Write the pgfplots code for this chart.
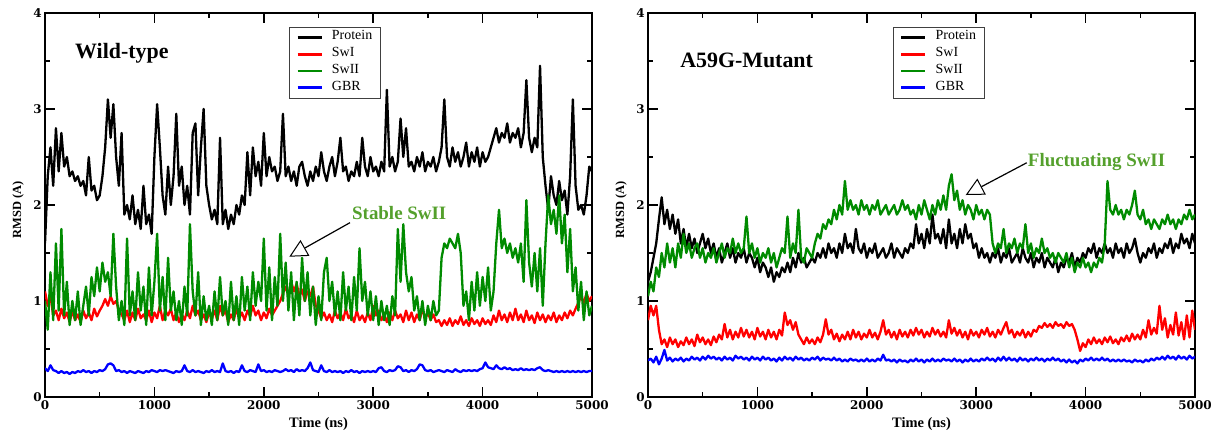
\documentclass[border=0pt]{standalone}
\usepackage{pgfplots}
\pgfplotsset{compat=1.18}
\usepackage{pgfplotstable}
\usepackage{fontspec}
\setmainfont{Liberation Serif}
\newfontfamily\tickfont{DejaVu Serif}
\newcommand{\tl}[1]{{\tickfont\bfseries\fontsize{12}{12}\selectfont #1}}
\usetikzlibrary{arrows.meta}
\definecolor{pgreen}{RGB}{0,139,0}
\definecolor{agreen}{RGB}{84,160,44}
\definecolor{pred}{RGB}{255,0,0}
\definecolor{pblue}{RGB}{0,0,255}

\pgfplotstableread{
t P S1 S2 G
0 1.6 1.1 1.0 0.3
25 2.3 0.95 0.7 0.27
50 2.6 1.05 1.3 0.33
75 2.2 0.85 0.8 0.28
100 2.8 0.9 1.6 0.27
125 2.35 0.8 0.9 0.25
150 2.75 0.92 1.75 0.27
175 2.4 0.82 0.85 0.25
200 2.5 0.88 1.2 0.26
225 2.3 0.78 0.75 0.24
250 2.35 0.9 1.0 0.26
275 2.25 0.8 0.8 0.25
300 2.3 0.86 1.1 0.27
325 2.2 0.78 0.75 0.26
350 2.25 0.9 0.95 0.28
375 2.1 0.82 1.15 0.26
400 2.5 0.88 0.85 0.27
425 2.15 0.8 1.25 0.25
450 2.2 0.92 1.05 0.27
475 2.05 0.84 1.35 0.26
500 2.1 0.9 1.1 0.28
525 2.3 0.95 1.4 0.27
550 2.6 1.02 1.2 0.29
575 3.1 0.95 1.3 0.34
600 2.7 1.05 1.05 0.35
625 3.05 0.97 1.7 0.33
650 2.5 1.0 1.15 0.27
675 2.2 0.9 0.8 0.28
700 2.75 0.86 1.0 0.26
725 1.9 0.8 0.75 0.27
750 2.0 0.9 1.65 0.25
775 1.85 0.78 0.85 0.27
800 2.1 0.88 1.1 0.26
825 1.8 0.8 0.8 0.25
850 1.95 0.92 1.3 0.27
875 1.75 0.82 0.9 0.26
900 2.2 0.86 1.15 0.25
925 1.8 0.8 0.75 0.27
950 1.9 0.9 1.35 0.26
975 1.7 0.78 0.85 0.28
1000 2.5 0.88 1.2 0.27
1025 3.05 0.82 1.7 0.26
1050 2.6 0.95 0.9 0.28
1075 2.1 0.8 1.25 0.27
1100 1.9 0.9 0.8 0.28
1125 2.4 0.85 1.45 0.27
1150 2.0 0.92 0.9 0.26
1175 2.3 0.8 1.1 0.25
1200 2.95 0.88 0.8 0.27
1225 2.2 0.78 1.0 0.26
1250 2.4 0.86 0.75 0.27
1275 2.0 0.8 1.15 0.33
1300 2.2 0.9 0.85 0.27
1325 1.9 0.82 1.8 0.26
1350 2.75 0.95 1.1 0.28
1375 2.85 0.85 0.85 0.26
1400 2.1 0.9 1.3 0.27
1425 2.6 0.8 0.75 0.26
1450 3.0 0.86 1.05 0.25
1475 2.2 0.78 0.8 0.27
1500 2.0 0.88 0.95 0.26
1525 1.85 0.82 0.75 0.28
1550 1.95 0.9 1.1 0.26
1575 1.8 0.8 0.8 0.27
1600 2.7 0.95 1.25 0.26
1625 1.8 0.85 0.85 0.35
1650 1.95 0.9 1.0 0.27
1675 1.75 0.78 0.75 0.26
1700 1.9 0.86 1.2 0.27
1725 1.8 0.8 0.8 0.25
1750 2.0 0.92 1.05 0.27
1775 1.9 0.82 0.75 0.26
1800 2.1 0.88 1.25 0.33
1825 2.0 0.8 0.9 0.27
1850 2.55 0.9 1.15 0.26
1875 2.1 0.84 0.8 0.28
1900 2.6 0.95 1.3 0.27
1925 2.3 0.85 0.95 0.26
1950 2.45 0.9 1.2 0.34
1975 2.2 0.8 1.0 0.27
2000 2.75 0.88 1.65 0.28
2025 2.3 0.82 0.9 0.26
2050 2.5 0.92 1.35 0.27
2075 2.35 0.85 0.8 0.26
2100 2.4 0.9 1.25 0.28
2125 2.25 0.95 0.95 0.27
2150 2.35 1.0 1.7 0.26
2175 2.95 1.08 1.0 0.27
2200 2.3 1.15 1.4 0.29
2225 2.4 1.05 0.9 0.27
2250 2.25 1.2 1.3 0.28
2275 2.35 1.1 0.8 0.26
2300 2.2 1.18 1.2 0.29
2325 2.4 1.05 0.85 0.27
2350 2.45 1.12 1.45 0.28
2375 2.3 1.0 1.0 0.27
2400 2.2 1.1 1.3 0.3
2425 2.35 1.05 0.85 0.36
2450 2.25 1.15 1.15 0.28
2475 2.4 0.95 0.75 0.27
2500 2.3 0.9 1.05 0.26
2525 2.55 0.82 0.8 0.33
2550 2.35 0.88 1.3 0.27
2575 2.25 0.8 1.45 0.26
2600 2.4 0.86 1.0 0.28
2625 2.5 0.78 1.2 0.26
2650 2.3 0.9 0.85 0.27
2675 2.45 0.82 1.1 0.26
2700 2.7 0.88 0.8 0.27
2725 2.35 0.8 1.3 0.25
2750 2.4 0.92 0.9 0.27
2775 2.25 0.82 1.15 0.26
2800 2.35 0.86 0.8 0.28
2825 2.3 0.78 1.25 0.26
2850 2.45 0.9 0.9 0.27
2875 2.3 0.8 1.55 0.25
2900 2.7 0.85 1.0 0.27
2925 2.4 0.78 1.2 0.26
2950 2.3 0.88 0.85 0.27
2975 2.5 0.8 1.1 0.26
3000 2.35 0.95 0.8 0.27
3025 2.4 0.85 1.05 0.26
3050 2.3 0.9 0.75 0.3
3075 2.45 0.8 1.0 0.31
3100 2.35 0.86 0.8 0.27
3125 3.2 0.78 0.95 0.26
3150 2.4 0.88 0.75 0.28
3175 2.5 0.8 1.05 0.27
3200 2.35 0.9 0.85 0.28
3225 2.45 0.82 1.75 0.32
3250 2.9 0.86 1.2 0.31
3275 2.5 0.78 1.8 0.27
3300 2.8 0.9 1.3 0.28
3325 2.4 0.8 1.1 0.26
3350 2.45 0.88 1.25 0.28
3375 2.35 0.78 0.9 0.27
3400 2.5 0.86 1.05 0.29
3425 2.4 0.8 0.8 0.34
3450 2.55 0.92 1.0 0.33
3475 2.35 0.82 0.75 0.28
3500 2.45 0.88 0.95 0.27
3525 2.4 0.8 0.8 0.28
3550 2.5 0.86 1.0 0.26
3575 2.35 0.78 0.85 0.27
3600 2.45 0.8 0.9 0.28
3625 2.6 0.74 1.45 0.27
3650 3.1 0.8 1.6 0.26
3675 2.5 0.75 1.55 0.28
3700 2.4 0.82 1.65 0.27
3725 2.6 0.74 1.6 0.26
3750 2.45 0.8 1.55 0.29
3775 2.55 0.76 1.7 0.27
3800 2.4 0.84 1.5 0.26
3825 2.5 0.75 0.95 0.28
3850 2.65 0.8 1.1 0.27
3875 2.4 0.74 0.8 0.28
3900 2.55 0.82 1.2 0.27
3925 2.45 0.76 0.9 0.28
3950 2.6 0.8 1.3 0.27
3975 2.4 0.74 0.95 0.29
4000 2.55 0.82 1.25 0.3
4025 2.45 0.76 1.0 0.36
4050 2.5 0.8 1.35 0.31
4075 2.6 0.75 0.9 0.3
4100 2.7 0.85 1.1 0.29
4125 2.8 0.78 1.6 0.33
4150 2.65 0.9 1.95 0.3
4175 2.75 0.8 1.55 0.29
4200 2.7 0.86 1.65 0.31
4225 2.85 0.78 1.5 0.29
4250 2.65 0.88 1.6 0.3
4275 2.75 0.8 1.45 0.28
4300 2.7 0.92 1.55 0.29
4325 2.8 0.8 1.4 0.28
4350 2.6 0.86 1.6 0.3
4375 2.75 0.78 1.2 0.28
4400 3.3 0.9 2.05 0.29
4425 2.7 0.8 1.4 0.28
4450 2.55 0.85 1.15 0.29
4475 2.7 0.77 1.5 0.28
4500 2.6 0.88 1.1 0.3
4525 3.45 0.8 1.55 0.31
4550 2.5 0.86 0.95 0.28
4575 2.2 0.78 1.6 0.27
4600 1.95 0.85 2.1 0.28
4625 2.3 0.8 1.8 0.27
4650 2.1 0.88 1.95 0.26
4675 2.0 0.78 1.7 0.27
4700 2.25 0.85 2.1 0.26
4725 2.05 0.8 1.6 0.27
4750 2.15 0.88 1.9 0.26
4775 1.9 0.82 1.3 0.27
4800 2.3 0.9 1.75 0.26
4825 3.1 0.85 1.1 0.27
4850 2.2 0.92 1.35 0.26
4875 1.95 0.98 0.9 0.27
4900 2.0 1.05 1.2 0.26
4925 1.9 0.98 0.8 0.27
4950 2.1 1.08 1.1 0.26
4975 2.4 1.0 0.85 0.27
5000 2.35 1.05 0.95 0.27
}\wt

\pgfplotstableread{
t P S1 S2 G
0 1.2 0.8 1.05 0.38
25 1.3 0.95 1.2 0.4
50 1.45 0.85 1.1 0.36
75 1.6 0.95 1.35 0.42
100 1.85 0.7 1.25 0.34
125 2.08 0.55 1.5 0.4
150 1.8 0.6 1.35 0.49
175 1.95 0.52 1.6 0.38
200 1.75 0.62 1.4 0.41
225 1.9 0.55 1.55 0.37
250 1.7 0.6 1.35 0.4
275 1.85 0.52 1.6 0.38
300 1.6 0.58 1.45 0.41
325 1.75 0.54 1.7 0.37
350 1.55 0.62 1.5 0.4
375 1.7 0.55 1.6 0.38
400 1.55 0.6 1.45 0.42
425 1.65 0.53 1.55 0.39
450 1.5 0.65 1.6 0.41
475 1.6 0.57 1.45 0.38
500 1.7 0.62 1.55 0.42
525 1.55 0.55 1.4 0.39
550 1.65 0.6 1.5 0.43
575 1.5 0.54 1.45 0.4
600 1.6 0.63 1.55 0.42
625 1.45 0.57 1.4 0.39
650 1.55 0.65 1.5 0.41
675 1.4 0.6 1.6 0.38
700 1.5 0.76 1.45 0.42
725 1.6 0.62 1.55 0.39
750 1.45 0.7 1.5 0.41
775 1.55 0.6 1.65 0.38
800 1.4 0.68 1.5 0.43
825 1.5 0.62 1.6 0.4
850 1.45 0.72 1.5 0.42
875 1.55 0.63 1.55 0.39
900 1.4 0.7 1.88 0.41
925 1.5 0.62 1.5 0.38
950 1.45 0.68 1.6 0.42
975 1.35 0.6 1.45 0.39
1000 1.45 0.72 1.55 0.41
1025 1.3 0.63 1.4 0.38
1050 1.4 0.68 1.5 0.42
1075 1.35 0.6 1.45 0.39
1100 1.25 0.7 1.55 0.41
1125 1.35 0.62 1.4 0.38
1150 1.2 0.68 1.5 0.4
1175 1.3 0.6 1.35 0.37
1200 1.25 0.7 1.45 0.41
1225 1.35 0.64 1.55 0.38
1250 1.3 0.88 1.5 0.42
1275 1.4 0.75 1.88 0.39
1300 1.3 0.8 1.45 0.41
1325 1.45 0.7 1.6 0.38
1350 1.35 0.78 1.5 0.42
1375 1.5 0.65 1.95 0.39
1400 1.4 0.6 1.45 0.41
1425 1.45 0.55 1.4 0.38
1450 1.35 0.62 1.55 0.4
1475 1.4 0.56 1.5 0.38
1500 1.45 0.6 1.45 0.41
1525 1.4 0.55 1.6 0.39
1550 1.5 0.62 1.7 0.42
1575 1.45 0.57 1.65 0.38
1600 1.55 0.65 1.8 0.41
1625 1.45 0.81 1.75 0.39
1650 1.6 0.65 1.85 0.4
1675 1.5 0.7 1.8 0.38
1700 1.55 0.6 1.95 0.41
1725 1.45 0.66 1.85 0.38
1750 1.6 0.58 2.0 0.4
1775 1.5 0.65 1.9 0.37
1800 1.7 0.6 2.25 0.39
1825 1.55 0.68 1.95 0.37
1850 1.6 0.6 2.05 0.4
1875 1.5 0.7 1.95 0.38
1900 1.75 0.62 2.0 0.39
1925 1.55 0.68 1.9 0.37
1950 1.5 0.6 2.05 0.39
1975 1.6 0.66 1.95 0.37
2000 1.45 0.62 2.0 0.4
2025 1.55 0.7 1.9 0.37
2050 1.5 0.62 2.0 0.39
2075 1.6 0.67 1.95 0.37
2100 1.45 0.6 2.05 0.4
2125 1.5 0.68 1.9 0.38
2150 1.55 0.8 1.95 0.44
2175 1.45 0.65 2.0 0.38
2200 1.5 0.7 1.9 0.39
2225 1.6 0.62 1.95 0.37
2250 1.45 0.68 2.0 0.39
2275 1.55 0.6 1.9 0.36
2300 1.5 0.7 1.95 0.39
2325 1.45 0.63 2.05 0.37
2350 1.55 0.68 1.95 0.38
2375 1.5 0.62 2.0 0.36
2400 1.6 0.7 1.9 0.39
2425 1.55 0.64 1.95 0.37
2450 1.8 0.72 1.85 0.4
2475 1.6 0.65 2.0 0.37
2500 1.7 0.7 1.9 0.39
2525 1.55 0.62 2.05 0.36
2550 1.75 0.68 1.95 0.39
2575 1.6 0.63 1.85 0.37
2600 1.9 0.72 2.0 0.4
2625 1.65 0.65 1.9 0.37
2650 1.7 0.7 2.05 0.39
2675 1.6 0.63 1.95 0.37
2700 1.75 0.68 2.1 0.4
2725 1.55 0.62 1.95 0.38
2750 1.85 0.8 2.2 0.39
2775 1.6 0.66 2.32 0.37
2800 1.7 0.72 2.05 0.4
2825 1.55 0.64 2.15 0.37
2850 1.75 0.7 1.95 0.39
2875 1.6 0.62 2.05 0.36
2900 1.8 0.68 1.9 0.39
2925 1.65 0.6 2.0 0.37
2950 1.7 0.7 1.95 0.4
2975 1.55 0.64 1.85 0.37
3000 1.6 0.68 2.0 0.39
3025 1.45 0.62 1.9 0.37
3050 1.55 0.7 1.95 0.4
3075 1.45 0.65 1.85 0.38
3100 1.5 0.72 1.95 0.41
3125 1.4 0.63 1.9 0.38
3150 1.5 0.68 1.6 0.4
3175 1.45 0.62 1.5 0.37
3200 1.55 0.7 1.6 0.41
3225 1.4 0.65 1.55 0.38
3250 1.5 0.72 1.75 0.42
3275 1.45 0.78 1.5 0.38
3300 1.55 0.66 1.6 0.41
3325 1.4 0.7 1.55 0.38
3350 1.45 0.62 1.65 0.4
3375 1.5 0.68 1.5 0.37
3400 1.4 0.64 1.6 0.41
3425 1.55 0.7 1.55 0.38
3450 1.45 0.62 1.8 0.4
3475 1.4 0.68 1.5 0.37
3500 1.5 0.63 1.6 0.4
3525 1.35 0.7 1.45 0.38
3550 1.45 0.68 1.55 0.41
3575 1.4 0.74 1.5 0.38
3600 1.5 0.72 1.65 0.4
3625 1.35 0.77 1.5 0.37
3650 1.45 0.73 1.55 0.4
3675 1.4 0.76 1.45 0.38
3700 1.35 0.72 1.5 0.41
3725 1.45 0.78 1.4 0.38
3750 1.3 0.74 1.5 0.4
3775 1.4 0.76 1.45 0.37
3800 1.35 0.72 1.4 0.39
3825 1.45 0.78 1.5 0.36
3850 1.4 0.74 1.35 0.39
3875 1.5 0.76 1.45 0.36
3900 1.35 0.7 1.3 0.38
3925 1.45 0.6 1.4 0.35
3950 1.4 0.48 1.35 0.39
3975 1.5 0.56 1.45 0.37
4000 1.45 0.52 1.35 0.4
4025 1.55 0.6 1.4 0.38
4050 1.5 0.55 1.3 0.41
4075 1.6 0.62 1.4 0.38
4100 1.45 0.56 1.35 0.4
4125 1.55 0.6 1.45 0.38
4150 1.5 0.55 1.4 0.41
4175 1.6 0.62 1.6 0.38
4200 1.5 0.57 2.25 0.4
4225 1.55 0.63 1.95 0.37
4250 1.45 0.56 1.9 0.39
4275 1.6 0.6 2.0 0.37
4300 1.5 0.55 1.9 0.39
4325 1.55 0.62 1.95 0.37
4350 1.45 0.58 1.85 0.39
4375 1.6 0.64 1.95 0.37
4400 1.5 0.58 1.9 0.38
4425 1.55 0.66 2.0 0.36
4450 1.65 0.6 2.15 0.39
4475 1.5 0.65 1.9 0.37
4500 1.4 0.6 1.85 0.38
4525 1.5 0.7 1.95 0.36
4550 1.45 0.62 1.8 0.39
4575 1.55 0.8 1.85 0.37
4600 1.5 0.65 1.75 0.4
4625 1.6 0.72 1.85 0.38
4650 1.45 0.66 1.8 0.41
4675 1.55 0.95 1.75 0.39
4700 1.5 0.7 1.85 0.42
4725 1.6 0.82 1.8 0.39
4750 1.55 0.62 1.9 0.43
4775 1.65 0.75 1.8 0.4
4800 1.5 0.65 1.85 0.42
4825 1.6 0.88 1.75 0.39
4850 1.55 0.64 1.85 0.43
4875 1.7 0.78 1.8 0.4
4900 1.6 0.6 1.9 0.42
4925 1.65 0.85 1.85 0.39
4950 1.55 0.62 1.95 0.43
4975 1.7 0.9 1.85 0.4
5000 1.6 0.7 1.9 0.42
}\mut

\pgfplotsset{
  rmsd/.style={
    scale only axis, width=547bp, height=384bp,
    xmin=0, xmax=5000, ymin=0, ymax=4,
    xtick={0,1000,2000,3000,4000,5000}, ytick={0,1,2,3,4},
    xticklabels={\tl{0},\tl{1000},\tl{2000},\tl{3000},\tl{4000},\tl{5000}},
    yticklabels={\tl{0},\tl{1},\tl{2},\tl{3},\tl{4}},
    minor xtick={500,1500,2500,3500,4500},
    minor ytick={0.5,1.5,2.5,3.5},
    tick align=inside,
    major tick length=10bp, minor tick length=5bp,
    axis line style={line width=1.6bp},
    every tick/.style={line width=1.5bp, black},
    xticklabel style={inner sep=3bp},
    yticklabel style={inner sep=3bp},
    xlabel={Time (ns)}, ylabel={RMSD (A)},
    xlabel style={font=\fontsize{14.5}{14.5}\selectfont\bfseries, at={(axis description cs:0.5,-0.07)}, anchor=center},
    ylabel style={font=\fontsize{12.5}{12.5}\selectfont\bfseries, at={(axis description cs:-0.049,0.487)}, anchor=center},
    legend cell align=left,
    legend style={draw=black!75, line width=0.8bp, fill=white,
      font=\fontsize{14}{14}\selectfont,
      inner xsep=7bp, inner ysep=2bp, column sep=8bp,
      nodes={inner xsep=1bp, inner ysep=0bp, text height=10.7bp, text depth=6bp}},
    legend image code/.code={\draw[#1, line width=2.6bp] (0bp,0bp) -- (24bp,0bp);},
    every axis plot/.append style={line width=2.3bp, line join=round},
  }
}

\begin{document}
\begin{tikzpicture}
\path[use as bounding box] (0bp,0bp) rectangle (1224bp,434bp);

\begin{axis}[rmsd, at={(45bp,37bp)}, anchor=south west,
  legend style={at={(0.446,0.964)}, anchor=north west}]
\addplot[black] table[x=t, y=P] {\wt};
\addplot[pred] table[x=t, y=S1] {\wt};
\addplot[pgreen] table[x=t, y=S2] {\wt};
\addplot[pblue] table[x=t, y=G] {\wt};
\legend{Protein, SwI, SwII, GBR}
\node[anchor=base west, inner sep=0pt, font=\fontsize{22}{22}\selectfont\bfseries] at (axis cs:274,3.53) {Wild-type};
\node[anchor=base west, inner sep=0pt, text=agreen, font=\fontsize{19}{19}\selectfont\bfseries] at (axis cs:2806,1.844) {Stable SwII};
\draw[line width=1.2bp, -{Triangle[length=18bp, width=18bp, fill=white, line width=1bp]}] (axis cs:2788,1.816) -- (axis cs:2233,1.461);
\end{axis}

\begin{axis}[rmsd, at={(648bp,37bp)}, anchor=south west,
  legend style={at={(0.4474,0.964)}, anchor=north west}]
\addplot[black] table[x=t, y=P] {\mut};
\addplot[pred] table[x=t, y=S1] {\mut};
\addplot[pgreen] table[x=t, y=S2] {\mut};
\addplot[pblue] table[x=t, y=G] {\mut};
\legend{Protein, SwI, SwII, GBR}
\node[anchor=base west, inner sep=0pt, font=\fontsize{22}{22}\selectfont\bfseries] at (axis cs:293,3.43) {A59G-Mutant};
\node[anchor=base west, inner sep=0pt, text=agreen, font=\fontsize{19}{19}\selectfont\bfseries] at (axis cs:3471,2.406) {Fluctuating SwII};
\draw[line width=1.2bp, -{Triangle[length=18bp, width=18bp, fill=white, line width=1bp]}] (axis cs:3462,2.44) -- (axis cs:2904,2.104);
\end{axis}
\end{tikzpicture}
\end{document}
